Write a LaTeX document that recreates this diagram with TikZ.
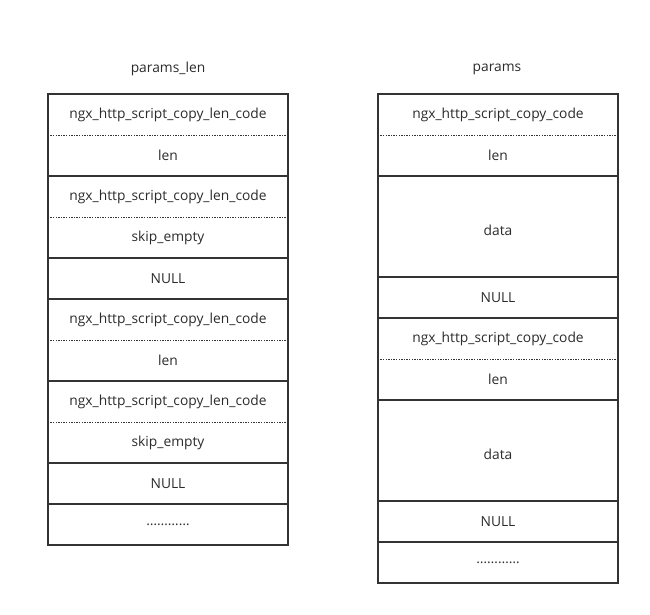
\documentclass[tikz,border=0pt]{standalone}
\usepackage{fontspec}
\setmainfont{Open Sans}
\usepackage{tikz}
\usepackage{xcolor}
\usetikzlibrary{positioning}
\definecolor{Frame_Gray}{HTML}{333333}
\definecolor{Text_Gray}{HTML}{2B2B2B}

\begin{document}
\begin{tikzpicture}[
    x=1pt, y=-1pt,
    cell/.style={minimum width=240pt, minimum height=41pt, inner sep=0pt, font=\fontsize{13.8}{15}\selectfont, text=Text_Gray, anchor=center},
    tall/.style={cell, minimum height=101pt, text height=17pt, text depth=0pt},
    title/.style={font=\fontsize{13.8}{15}\selectfont, text=Text_Gray},
    frame/.style={draw=Frame_Gray, line width=1.6pt},
    solidsep/.style={draw=Frame_Gray, line width=1.6pt},
    dotsep/.style={draw=Frame_Gray, line width=1.1pt, dash pattern=on 1.3pt off 1.3pt}
]
\useasboundingbox (0,0) rectangle (650,615);

% Column titles
\node[title] (lentitle) at (168, 69) {params\_len};
\node[title] (valtitle) at (497, 69) {params};

% Left column: params_len
\node[cell] (l1) at (168, 114.5) {ngx\_http\_script\_copy\_len\_code};
\node[cell] (l2) at (168, 155.5) {len};
\node[cell] (l3) at (168, 196.5) {ngx\_http\_script\_copy\_len\_code};
\node[cell] (l4) at (168, 237.5) {skip\_empty};
\node[cell] (l5) at (168, 278.5) {NULL};
\node[cell] (l6) at (168, 319.5) {ngx\_http\_script\_copy\_len\_code};
\node[cell] (l7) at (168, 360.5) {len};
\node[cell] (l8) at (168, 401.5) {ngx\_http\_script\_copy\_len\_code};
\node[cell] (l9) at (168, 442.5) {skip\_empty};
\node[cell] (l10) at (168, 483.5) {NULL};
\node[cell] (l11) at (168, 524.5) {…………};

\draw[frame] (l1.north west) rectangle (l11.south east);
\foreach \n in {1,3,6,8}
    \draw[dotsep] (l\n.south west) -- (l\n.south east);
\foreach \n in {2,4,5,7,9,10}
    \draw[solidsep] (l\n.south west) -- (l\n.south east);

% Right column: params
\node[cell] (r1) at (498, 114.5) {ngx\_http\_script\_copy\_code};
\node[cell] (r2) at (498, 155.5) {len};
\node[tall] (r3) at (498, 226.5) {data};
\node[cell] (r4) at (498, 297.5) {NULL};
\node[cell] (r5) at (498, 338.5) {ngx\_http\_script\_copy\_code};
\node[cell] (r6) at (498, 379.5) {len};
\node[tall] (r7) at (498, 450.5) {data};
\node[cell] (r8) at (498, 521.5) {NULL};
\node[cell] (r9) at (498, 562.5) {…………};

\draw[frame] (r1.north west) rectangle (r9.south east);
\foreach \n in {1,5}
    \draw[dotsep] (r\n.south west) -- (r\n.south east);
\foreach \n in {2,3,4,6,7,8}
    \draw[solidsep] (r\n.south west) -- (r\n.south east);

\end{tikzpicture}
\end{document}
